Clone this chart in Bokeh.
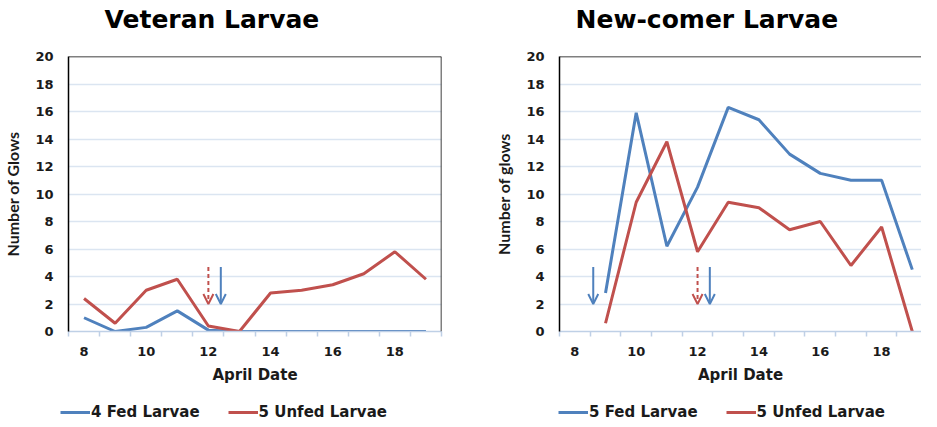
from bokeh.plotting import figure
from bokeh.models import (FixedTicker, Legend, LegendItem, Span, Arrow, OpenHead,
                          ColumnDataSource, Range1d, Label)
from bokeh.layouts import row, column
from bokeh.embed import file_html
from bokeh.resources import INLINE

# ---------------- data ----------------
april_days = [8, 9, 10, 11, 12, 13, 14, 15, 16, 17, 18, 19]
x_label_ticks = [8, 10, 12, 14, 16, 18]
y_ticks = [0, 2, 4, 6, 8, 10, 12, 14, 16, 18, 20]

vet_dates = [8, 9, 10, 11, 12, 13, 14, 15, 16, 17, 18, 19]
vet_fed = [1.0, 0.0, 0.3, 1.5, 0.1, 0.0, 0.0, 0.0, 0.0, 0.0, 0.0, 0.0]
vet_unfed = [2.4, 0.6, 3.0, 3.8, 0.4, 0.0, 2.8, 3.0, 3.4, 4.2, 5.8, 3.8]

new_dates = [9, 10, 11, 12, 13, 14, 15, 16, 17, 18, 19]
new_fed = [2.8, 15.9, 6.2, 10.5, 16.3, 15.4, 12.9, 11.5, 11.0, 11.0, 4.5]
new_unfed = [0.6, 9.4, 13.8, 5.8, 9.4, 9.0, 7.4, 8.0, 4.8, 7.6, 0.0]

# arrow markers (x position; each arrow runs from arrow_top down to arrow_bottom)
vet_fed_arrows_x = [12.4]
vet_unfed_arrows_x = [12.0]
new_fed_arrows_x = [8.6, 12.4]
new_unfed_arrows_x = [12.0]
arrow_top = 4.7
arrow_bottom = 2.0

BLUE = "#4f81bd"
RED = "#c0504d"
GRID = "#dbe5f1"
XAXIS = "#bfd0e6"
TXT = "#1a1a1a"

TITLE_H = 40
PLOT_H = 355
LEG_H = 26
TOP = 16
FRAME_H = 275


def make_title(width, text, x_pos):
    tf = figure(width=width, height=TITLE_H, x_range=Range1d(0, 1),
                y_range=Range1d(0, 1), output_backend="svg",
                toolbar_location=None, x_axis_type=None, y_axis_type=None,
                min_border_left=0, min_border_right=0, min_border_top=0,
                min_border_bottom=0)
    tf.outline_line_color = None
    tf.xgrid.visible = False
    tf.ygrid.visible = False
    tf.add_layout(Label(x=x_pos, y=21, x_units="screen", y_units="screen",
                        text=text, text_font="DejaVu Sans",
                        text_font_style="bold", text_font_size="25px",
                        text_color="black", text_baseline="middle",
                        text_align="left"))
    return tf


def make_panel(ylabel, dates, fed, unfed, fed_ax, unfed_ax, width,
               b_left, b_right, x_end, right_border):
    p = figure(width=width, height=PLOT_H, x_range=Range1d(7.5, x_end),
               y_range=Range1d(0, 20), output_backend="svg",
               toolbar_location=None, min_border_left=b_left,
               min_border_right=b_right, min_border_top=TOP,
               min_border_bottom=PLOT_H - TOP - FRAME_H)
    p.outline_line_color = None
    p.background_fill_color = "white"
    p.border_fill_color = "white"

    bounds = [d - 0.5 for d in april_days] + [april_days[-1] + 0.5]
    xa = p.xaxis[0]
    xa.ticker = FixedTicker(ticks=x_label_ticks, minor_ticks=bounds)
    xa.major_tick_out = 0
    xa.major_tick_in = 0
    xa.minor_tick_out = 5
    xa.minor_tick_in = 0
    xa.minor_tick_line_color = XAXIS
    xa.minor_tick_line_width = 1.5
    xa.axis_line_color = XAXIS
    xa.axis_line_width = 1.5
    xa.major_label_text_font = "DejaVu Sans"
    xa.major_label_text_font_style = "bold"
    xa.major_label_text_font_size = "13px"
    xa.major_label_text_color = TXT
    xa.major_label_standoff = 10
    xa.axis_label = "April Date"
    xa.axis_label_text_font = "DejaVu Sans"
    xa.axis_label_text_font_style = "bold"
    xa.axis_label_text_font_size = "15px"
    xa.axis_label_text_color = TXT
    xa.axis_label_standoff = 7

    ya = p.yaxis[0]
    ya.ticker = FixedTicker(ticks=y_ticks, minor_ticks=[])
    ya.major_tick_out = 0
    ya.major_tick_in = 0
    ya.minor_tick_out = 0
    ya.minor_tick_in = 0
    ya.axis_line_color = "black"
    ya.axis_line_width = 1.5
    ya.major_label_text_font = "DejaVu Sans"
    ya.major_label_text_font_style = "bold"
    ya.major_label_text_font_size = "13px"
    ya.major_label_text_color = TXT
    ya.major_label_standoff = 15
    ya.axis_label = ylabel
    ya.axis_label_text_font = "Lato"
    ya.axis_label_text_font_style = "bold"
    ya.axis_label_text_font_size = "16px"
    ya.axis_label_text_color = TXT
    ya.axis_label_standoff = 10

    p.xgrid.visible = False
    p.ygrid.grid_line_color = GRID
    p.ygrid.grid_line_width = 1.5

    p.add_layout(Span(location=20, dimension="width", line_color="black",
                      line_width=1.5))
    if right_border:
        p.add_layout(Span(location=x_end, dimension="height",
                          line_color="black", line_width=1.5))

    p.line(dates, fed, line_color=BLUE, line_width=3)
    p.line(dates, unfed, line_color=RED, line_width=3)

    fsrc = ColumnDataSource(dict(x=fed_ax, y0=[arrow_top] * len(fed_ax),
                                 y1=[arrow_bottom] * len(fed_ax)))
    p.add_layout(Arrow(x_start="x", y_start="y0", x_end="x", y_end="y1",
                       source=fsrc, line_color=BLUE, line_width=2,
                       end=OpenHead(size=10, line_color=BLUE, line_width=2)))
    usrc = ColumnDataSource(dict(x=unfed_ax, y0=[arrow_top] * len(unfed_ax),
                                 y1=[arrow_bottom] * len(unfed_ax)))
    p.add_layout(Arrow(x_start="x", y_start="y0", x_end="x", y_end="y1",
                       source=usrc, line_color=RED, line_width=2,
                       line_dash="4 3",
                       end=OpenHead(size=10, line_color=RED, line_width=2)))
    return p


def make_legend(width, dates, fed, unfed, fed_label, unfed_label, legend_x):
    # legend strip below a panel; its series lie outside this strip's ranges,
    # so only the legend entries are visible here
    lf = figure(width=width, height=LEG_H, x_range=Range1d(0, 1),
                y_range=Range1d(-2, -1), output_backend="svg",
                toolbar_location=None, x_axis_type=None, y_axis_type=None,
                min_border_left=0, min_border_right=0, min_border_top=0,
                min_border_bottom=0)
    lf.outline_line_color = None
    lf.xgrid.visible = False
    lf.ygrid.visible = False
    r_fed = lf.line(dates, fed, line_color=BLUE, line_width=3)
    r_unfed = lf.line(dates, unfed, line_color=RED, line_width=3)
    legend = Legend(items=[LegendItem(label=fed_label, renderers=[r_fed]),
                           LegendItem(label=unfed_label, renderers=[r_unfed])],
                    orientation="horizontal", location=(legend_x, 0),
                    padding=0, margin=0, spacing=28, glyph_width=30,
                    glyph_height=16, label_height=16, label_standoff=1,
                    border_line_color=None, background_fill_alpha=0,
                    label_text_font="DejaVu Sans",
                    label_text_font_style="bold",
                    label_text_font_size="15px", label_text_color=TXT)
    lf.add_layout(legend)
    return lf


t1 = make_title(462, "Veteran Larvae", 104)
t2 = make_title(459, "New-comer Larvae", 113)
p1 = make_panel("Number of Glows", vet_dates, vet_fed, vet_unfed,
                vet_fed_arrows_x, vet_unfed_arrows_x,
                width=462, b_left=60, b_right=21, x_end=19.5,
                right_border=True)
p2 = make_panel("Number of glows", new_dates, new_fed, new_unfed,
                new_fed_arrows_x, new_unfed_arrows_x,
                width=459, b_left=97, b_right=0, x_end=19.3,
                right_border=False)
l1 = make_legend(462, vet_dates, vet_fed, vet_unfed,
                 "4 Fed Larvae", "5 Unfed Larvae", 60)
l2 = make_legend(459, new_dates, new_fed, new_unfed,
                 "5 Fed Larvae", "5 Unfed Larvae", 96)

layout = column(row(t1, t2), row(p1, p2), row(l1, l2))
open("out.html", "w").write(file_html(layout, INLINE))
